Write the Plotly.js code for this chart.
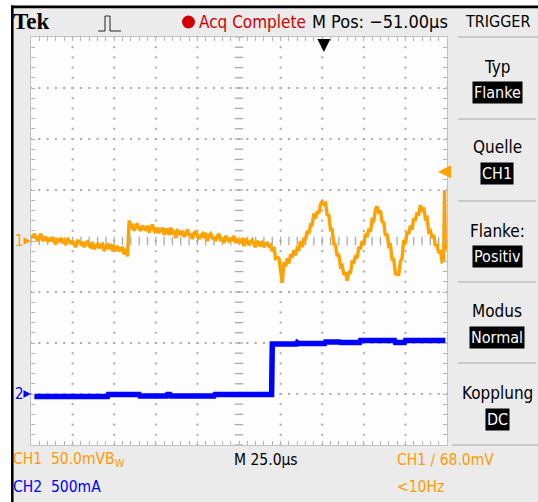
<!DOCTYPE html>
<html><head><meta charset="utf-8">
<script src="https://cdn.plot.ly/plotly-3.0.1.min.js"></script>
<style>html,body{margin:0;padding:0;background:#fff;overflow:hidden}#chart{width:538px;height:502px}</style>
</head><body><div id="chart"></div>
<script>
// ---- Data (time in µs relative to trigger) ----
const ch1Time = [
  -176,-175,-174,-173,-172,-171,-170,-169,-168,-167,
  -166,-165,-164,-163,-162,-161,-160,-159,-158,-157,
  -156,-155,-154,-153,-152,-151,-150,-149,-148,-147,
  -146,-145,-144,-143,-142,-141,-140,-139,-138,-137,
  -136,-135,-134,-133,-132,-131,-130,-129,-128,-127,
  -126,-125,-124,-123,-122,-121,-120,-119,-118,-117,
  -116,-115,-114,-113,-112,-111,-110,-109,-108,-107,
  -106,-105,-104,-103,-102,-101,-100,-99,-98,-97,
  -96,-95,-94,-93,-92,-91,-90,-89,-88,-87,
  -86,-85,-84,-83,-82,-81,-80,-79,-78,-77,
  -76,-75,-74,-73,-72,-71,-70,-69,-68,-67,
  -66,-65,-64,-63,-62,-61,-60,-59,-58,-57,
  -56,-55,-54,-53,-52,-51,-50,-49,-48,-47,
  -46,-45,-44,-43,-42,-41,-40,-39,-38,-37,
  -36,-35,-34,-33,-32,-31,-30,-29,-28,-27,
  -26,-25,-24,-23,-22,-21,-20,-19,-18,-17,
  -16,-15,-14,-13,-12,-11,-10,-9,-8,-7,
  -6,-5,-4,-3,-2,-1,0,1,2,3,
  4,5,6,7,8,9,10,11,12,13,
  14,15,16,17,18,19,20,21,22,23,
  24,25,26,27,28,29,30,31,32,33,
  34,35,36,37,38,39,40,41,42,43,
  44,45,46,47,48,49,50,51,52,53,
  54,55,56,57,58,59,60,61,62,63,
  64,65,66,67,68,69,70,71,72,72.5,73];
const ch1mV = [
  6,3,7,3,0,4,7,0,2,4,
  -1,3,0,4,-1,-3,2,0,3,-1,
  0,-4,3,-1,-3,0,-3,-6,1,-1,
  -3,-1,-6,-2,0,-5,-6,-1,-8,-5,
  -3,-7,-4,-3,-10,-6,-4,-8,-3,-10,
  -6,-8,-5,-10,-8,-6,-13,-8,-15,
  20,12,17,10,15,17,12,10,15,13,
  10,15,8,13,16,10,8,13,9,10,
  13,6,11,11,6,13,8,9,3,10,
  9,6,10,4,7,11,5,7,2,8,
  9,5,2,5,7,3,8,0,5,7,
  3,3,0,5,7,0,3,-2,5,2,
  -1,3,0,5,-2,1,0,-2,3,-5,
  1,0,-4,-1,1,-3,-6,0,-2,-5,
  0,-6,-3,-2,-5,
  -4,-10,-6,-17,-16,-17,-27,-41,-21,-25,
  -17,-22,-13,-16,-9,-14,-7,-8,0,-6,
  2,2,10,7,16,16,27,22,29,27,
  36,39,36,37,26,25,11,11,-3,-4,
  -15,-13,-25,-24,-33,-31,-39,-30,-32,-19,
  -22,-14,-17,-6,-8,0,-4,7,4,12,
  9,21,20,31,34,27,30,19,18,5,
  7,-5,-4,-18,-18,-32,-33,-33,-20,-17,
  1,-3,9,7,15,11,22,20,28,25,
  35,29,33,22,23,9,10,3,6,-5,
  -3,-12,-9,-20,-19,50,-9];
const ch2Time = [-174,-130,-129.5,-111,-110.5,-94.5,-94,-92.5,-92,-66,-65.5,-31.4,-31,-16.5,-16,-15,0.5,1,9.5,10,21.5,22,42.5,43,48.5,49,73];
const ch2mA = [-25,-25,-5,-5,-20,-20,-5,-5,-20,-20,-5,-5,490,490,505,495,495,510,510,505,505,525,525,505,505,525,525];

const timeRange = [-176, 74];      // 10 div x 25 µs
const centerTime = -51;            // M Pos
const ch1Range = [-200, 200];      // 8 div x 50 mV
const ch2Range = [-500, 3500];     // 8 div x 500 mA, offset -3 div
const triggerTime = 0;
const triggerLevel = 68;           // mV

// ---- layout helpers (pixel -> paper) ----
const L=31, R=447, T=37, B=445;
const px = x => (x-L)/(R-L);
const py = y => (B-y)/(B-T);
const NF = '"Liberation Sans Narrow", "DejaVu Sans Condensed", "Arial Narrow", sans-serif';
const ORANGE = '#ffa200', ORTXT = '#ff9a00', BLUE = '#0000ff', GRID = '#a9a9a9';

// grid dots
const gT=[], gV=[], cT=[], cV=[], hT=[], hV=[];
for (let k=1;k<10;k++){ if(k===5) continue; const t=timeRange[0]+k*25; for(let v=ch1Range[0]; v<=ch1Range[1]; v+=10){gT.push(t); gV.push(v);} }
for (let j=-3;j<=3;j++){ if(j===0) continue; const v=j*50; for(let i=0;i<=50;i++){gT.push(timeRange[0]+i*5); gV.push(v);} }
for (let v=ch1Range[0]; v<=ch1Range[1]; v+=10){ cT.push(centerTime); cV.push(v); }
for (let i=0;i<=50;i++){ hT.push(timeRange[0]+i*5); hV.push(0); }

const traces = [
  {x:gT, y:gV, mode:'markers', marker:{symbol:'square', size:2, color:GRID}, hoverinfo:'skip'},
  {x:cT, y:cV, mode:'markers', marker:{symbol:'line-ew', size:6, line:{width:1.3, color:GRID}}, hoverinfo:'skip'},
  {x:hT, y:hV, mode:'markers', marker:{symbol:'line-ns', size:6, line:{width:1.3, color:GRID}}, hoverinfo:'skip'},
  {x:ch1Time, y:ch1mV, mode:'lines', line:{color:ORANGE, width:3.4}, name:'CH1'},
  {x:ch2Time, y:ch2mA, yaxis:'y2', mode:'lines', line:{color:BLUE, width:5.5}, name:'CH2'}
];

function label(x, y, text, size, color, anchor, extra){
  return Object.assign({xref:'paper', yref:'paper', x:px(x), y:py(y), text:text, showarrow:false,
    xanchor:anchor||'left', yanchor:'middle', font:{family:NF, size:size, color:color||'#000'}}, extra||{});
}
function box(y, text){
  return label(497, y, text, 16, '#fff', 'center', {bgcolor:'#000', borderpad:1});
}

const annotations = [
  label(11, 22, '<b>Tek</b>', 23, '#000', 'left', {font:{family:'"Liberation Serif", serif', size:23, color:'#000'}}),
  label(197, 22, 'Acq Complete', 17, '#d00000'),
  label(310, 22, 'M Pos: \u221251.00\u00b5s', 18, '#000'),
  label(498, 22, 'TRIGGER', 16, '#000', 'center'),
  label(497, 67, 'Typ', 17, '#000', 'center'), box(93, 'Flanke'),
  label(497, 147, 'Quelle', 17, '#000', 'center'), box(173, 'CH1'),
  label(497, 231, 'Flanke:', 17, '#000', 'center'), box(256, 'Positiv'),
  label(497, 311, 'Modus', 17, '#000', 'center'), box(337, 'Normal'),
  label(497, 393, 'Kopplung', 17, '#000', 'center'), box(419, 'DC'),
  label(11, 460, 'CH1  50.0mVB<sub>W</sub>', 15.5, ORTXT),
  label(11, 487, 'CH2  500mA', 15.5, BLUE),
  label(232, 460, 'M 25.0\u00b5s', 15.5, '#000'),
  label(395, 460, 'CH1 \u2215 68.0mV', 15.5, ORTXT),
  label(395, 487, '&lt;10Hz', 15.5, ORTXT),
  // channel ground markers
  {xref:'x', yref:'y', x:timeRange[0], y:0, ax:-12, ay:0, text:'1', showarrow:true, arrowhead:2, arrowsize:1, arrowwidth:1.5, arrowcolor:ORTXT, standoff:0, font:{family:NF, size:15, color:ORTXT}},
  {xref:'x', yref:'y2', x:timeRange[0], y:0, ax:-12, ay:0, text:'2', showarrow:true, arrowhead:2, arrowsize:1, arrowwidth:1.5, arrowcolor:BLUE, standoff:0, font:{family:NF, size:15, color:BLUE}},
  // trigger level
  {xref:'paper', yref:'y', x:1, y:triggerLevel, xshift:-9, ax:9, ay:0, text:'', showarrow:true, arrowhead:2, arrowsize:1.3, arrowwidth:2, arrowcolor:ORANGE, standoff:0},
  // trigger position
  {xref:'x', yref:'paper', x:triggerTime, y:1, yshift:-15, ax:0, ay:-11, text:'', showarrow:true, arrowhead:2, arrowsize:1.3, arrowwidth:2, arrowcolor:'#000', standoff:0}
];

const sep = y => ({type:'line', xref:'paper', yref:'paper', x0:px(458), x1:px(536), y0:py(y), y1:py(y), line:{color:'#a8a8a8', width:1.2}});
const shapes = [
  {type:'rect', xref:'paper', yref:'paper', layer:'below', x0:px(11), x1:px(540), y0:py(504), y1:py(5.5), fillcolor:'#ebebeb', line:{width:0}},
  {type:'rect', xref:'paper', yref:'paper', layer:'below', x0:px(31), x1:px(447), y0:py(445), y1:py(37), fillcolor:'#fdfdfd', line:{width:0}},
  {type:'rect', xref:'paper', yref:'paper', x0:px(11), x1:px(13.6), y0:py(504), y1:py(5.5), fillcolor:'#000', line:{width:0}},
  {type:'rect', xref:'paper', yref:'paper', x0:px(11), x1:px(540), y0:py(8.2), y1:py(5.5), fillcolor:'#000', line:{width:0}},
  {type:'circle', xref:'paper', yref:'paper', x0:px(182), x1:px(195), y0:py(28.5), y1:py(15.5), fillcolor:'#d00000', line:{width:0}},
  {type:'path', xref:'paper', yref:'paper', path:`M ${px(98)} ${py(31)} L ${px(105)} ${py(31)} L ${px(105)} ${py(16)} L ${px(110)} ${py(16)} L ${px(110)} ${py(31)} L ${px(121)} ${py(31)}`, line:{color:'#222', width:1}},
  {type:'line', xref:'paper', yref:'paper', x0:px(458), x1:px(540), y0:py(37), y1:py(37), line:{color:'#a8a8a8', width:1.2}},
  sep(119), sep(201), sep(282), sep(363),
  {type:'line', xref:'paper', yref:'paper', x0:px(452), x1:px(540), y0:py(445), y1:py(445), line:{color:'#a8a8a8', width:1.2}}
];

const axisBase = {showgrid:false, zeroline:false, showline:true, mirror:'ticks', linecolor:'#c2c2c2', linewidth:1,
  ticks:'inside', ticklen:4, tickcolor:'#b2b2b2', showticklabels:false, fixedrange:true};

const layout = {
  width:538, height:502, margin:{l:L, r:538-R, t:T, b:502-B, pad:0},
  paper_bgcolor:'#ffffff', plot_bgcolor:'rgba(0,0,0,0)', showlegend:false, hovermode:false,
  xaxis:Object.assign({}, axisBase, {range:timeRange, tick0:timeRange[0], dtick:25,
    minor:{tick0:timeRange[0], dtick:5, ticks:'inside', ticklen:4, tickcolor:'#b2b2b2', showgrid:false}}),
  yaxis:Object.assign({}, axisBase, {range:ch1Range, tick0:ch1Range[0], dtick:50,
    minor:{tick0:ch1Range[0], dtick:10, ticks:'inside', ticklen:4, tickcolor:'#b2b2b2', showgrid:false}}),
  yaxis2:{range:ch2Range, overlaying:'y', visible:false, fixedrange:true},
  annotations:annotations, shapes:shapes
};

Plotly.newPlot('chart', traces, layout, {staticPlot:true, displayModeBar:false});
</script></body></html>
